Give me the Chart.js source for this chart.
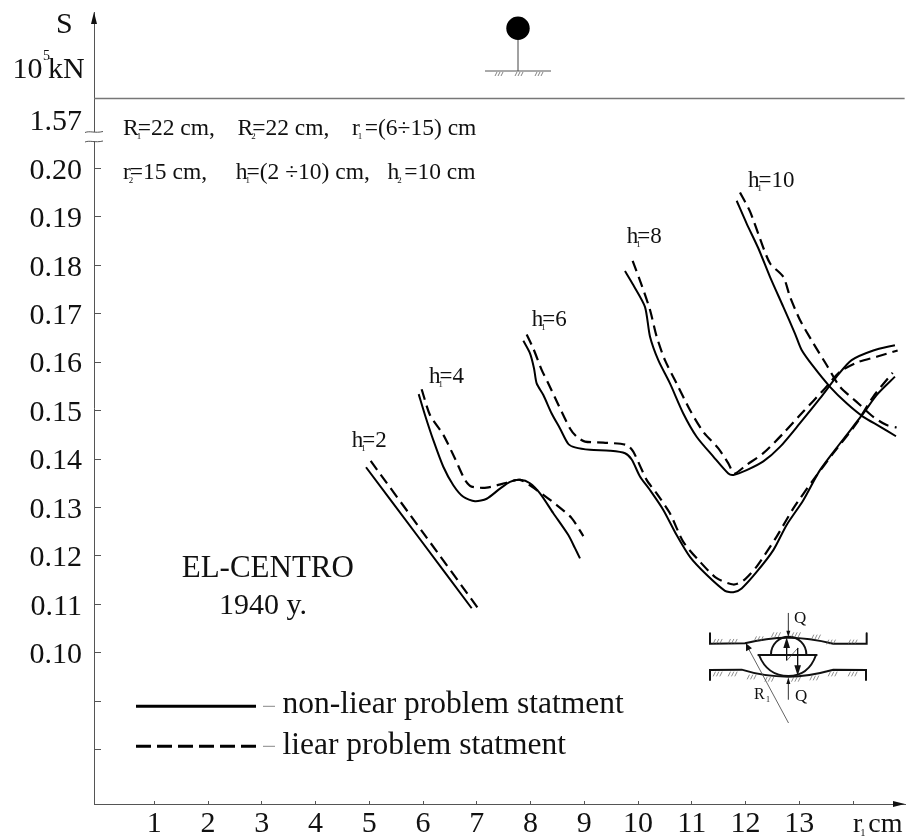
<!DOCTYPE html>
<html>
<head>
<meta charset="utf-8">
<title>S vs r1</title>
<script src="https://cdn.jsdelivr.net/npm/chart.js@4"></script>
<style>
  html, body { margin: 0; padding: 0; background: #fff; }
  canvas { display: block; }
</style>
</head>
<body>
<canvas id="chart" width="912" height="838"></canvas>
<script>
// axis ticks
const xTickValues = [1, 2, 3, 4, 5, 6, 7, 8, 9, 10, 11, 12, 13, 14];
const xTickLabels = ['1', '2', '3', '4', '5', '6', '7', '8', '9', '10', '11', '12', '13', ''];
const yTickValues = [0.08, 0.09, 0.10, 0.11, 0.12, 0.13, 0.14, 0.15, 0.16, 0.17, 0.18, 0.19, 0.20, 0.21];
const yTickLabels = ['', '', '0.10', '0.11', '0.12', '0.13', '0.14', '0.15', '0.16', '0.17', '0.18', '0.19', '0.20', '1.57'];

// h1=2
const h2SolidX = [4.939, 5.92, 6.905];
const h2SolidY = [0.1383, 0.1238, 0.1092];
const h2DashX = [5.026, 6.02, 7.017];
const h2DashY = [0.1396, 0.1245, 0.1093];

// h1=4
const h4SolidX = [5.919, 6.036, 6.191, 6.377, 6.563, 6.749, 6.967, 7.184, 7.432, 7.618, 7.804, 7.990, 8.176, 8.424, 8.703, 8.827, 8.920];
const h4SolidY = [0.1534, 0.1491, 0.1439, 0.1384, 0.1346, 0.1322, 0.1313, 0.1318, 0.1339, 0.1353, 0.1357, 0.1350, 0.1329, 0.1288, 0.1243, 0.1216, 0.1195];
const h4DashX = [5.974, 6.129, 6.377, 6.594, 6.780, 6.904, 7.184, 7.556, 7.804, 8.114, 8.486, 8.765, 8.982];
const h4DashY = [0.1544, 0.1491, 0.1450, 0.1401, 0.1357, 0.1343, 0.1341, 0.1351, 0.1357, 0.1336, 0.1305, 0.1278, 0.1241];

// h1=6
const h6SolidX = [7.866, 7.990, 8.065, 8.114, 8.238, 8.393, 8.548, 8.703, 8.827, 9.106, 9.478, 9.758, 9.882, 10.036, 10.222, 10.470, 10.718, 10.966, 11.276, 11.618, 11.773, 11.928, 12.207, 12.517, 12.765, 13.075, 13.385, 13.757, 14.191, 14.439, 14.780];
const h6SolidY = [0.1644, 0.1618, 0.1587, 0.1556, 0.1532, 0.1494, 0.1463, 0.1431, 0.1424, 0.1419, 0.1417, 0.1412, 0.1399, 0.1364, 0.1336, 0.1295, 0.1243, 0.1198, 0.1161, 0.1128, 0.1125, 0.1133, 0.1167, 0.1212, 0.1264, 0.1315, 0.1377, 0.1432, 0.1494, 0.1532, 0.1570];
const h6DashX = [7.928, 8.052, 8.207, 8.331, 8.517, 8.734, 8.858, 9.013, 9.354, 9.789, 9.913, 10.160, 10.346, 10.594, 10.842, 11.152, 11.463, 11.773, 11.959, 12.207, 12.579, 12.889, 13.261, 13.633, 14.067, 14.377, 14.737];
const h6DashY = [0.1657, 0.1628, 0.1584, 0.1556, 0.1512, 0.1463, 0.1446, 0.1436, 0.1434, 0.1429, 0.1415, 0.1357, 0.1329, 0.1288, 0.1229, 0.1188, 0.1154, 0.1141, 0.1149, 0.1178, 0.1240, 0.1298, 0.1357, 0.1412, 0.1474, 0.1529, 0.1578];

// h1=8
const h8SolidX = [9.757, 9.912, 10.129, 10.222, 10.377, 10.594, 10.842, 11.090, 11.401, 11.680, 11.773, 12.021, 12.331, 12.641, 13.013, 13.385, 13.695, 13.974, 14.377, 14.780];
const h8SolidY = [0.1788, 0.1759, 0.1714, 0.1653, 0.1604, 0.1556, 0.1494, 0.1446, 0.1405, 0.1370, 0.1367, 0.1377, 0.1395, 0.1425, 0.1474, 0.1525, 0.1570, 0.1604, 0.1624, 0.1635];
const h8DashX = [9.900, 10.067, 10.222, 10.346, 10.501, 10.718, 10.966, 11.214, 11.494, 11.680, 11.791, 12.021, 12.331, 12.703, 13.075, 13.447, 13.757, 14.067, 14.439, 14.830];
const h8DashY = [0.1809, 0.1759, 0.1708, 0.1653, 0.1604, 0.1556, 0.1501, 0.1456, 0.1422, 0.1391, 0.1370, 0.1388, 0.1412, 0.1453, 0.1498, 0.1542, 0.1580, 0.1599, 0.1611, 0.1624];

// h1=10
const h10SolidX = [11.835, 12.021, 12.238, 12.455, 12.703, 12.920, 13.044, 13.261, 13.571, 13.881, 14.191, 14.501, 14.799];
const h10SolidY = [0.1933, 0.1886, 0.1835, 0.1776, 0.1714, 0.1659, 0.1625, 0.1591, 0.1549, 0.1515, 0.1487, 0.1467, 0.1447];
const h10DashX = [11.897, 12.083, 12.269, 12.455, 12.703, 12.827, 13.013, 13.261, 13.509, 13.757, 14.067, 14.377, 14.625, 14.811];
const h10DashY = [0.1950, 0.1911, 0.1855, 0.1804, 0.1776, 0.1735, 0.1687, 0.1639, 0.1594, 0.1549, 0.1518, 0.1487, 0.1470, 0.1465];

// the line across the top of the plot
const dividerX = [-0.12, 14.96];
const dividerY = [0.2144, 0.2144];

const serif = '"Liberation Serif", "Times New Roman", serif';
const ink = '#111';
const axisGrey = '#555';

const pts = (xs, ys) => xs.map((x, i) => ({ x, y: ys[i] }));

const solid = (label, xs, ys) => ({ label, data: pts(xs, ys), borderColor: '#000', borderWidth: 2, showLine: true, pointRadius: 0, tension: 0.25, fill: false });
const dashed = (label, xs, ys) => ({ label, data: pts(xs, ys), borderColor: '#000', borderWidth: 2.2, borderDash: [11, 6], showLine: true, pointRadius: 0, tension: 0.25, fill: false });

function txt(ctx, s, x, y, size) {
  ctx.font = size + 'px ' + serif;
  ctx.fillStyle = ink;
  ctx.textAlign = 'left';
  ctx.textBaseline = 'alphabetic';
  ctx.fillText(s, x, y);
}

// letter with a tiny subscript under it, then the rest of the text right after
function subbed(ctx, base, sub, rest, x, y, size) {
  txt(ctx, base, x, y, size);
  const w = ctx.measureText(base).width;
  txt(ctx, sub, x + w - 2, y + 4, size * 0.38);
  txt(ctx, rest, x + w - 1, y, size);
}

function line(ctx, pairs, width, color) {
  ctx.beginPath();
  pairs.forEach((p, i) => i ? ctx.lineTo(p[0], p[1]) : ctx.moveTo(p[0], p[1]));
  ctx.lineWidth = width;
  ctx.strokeStyle = color;
  ctx.stroke();
}

function head(ctx, tipX, tipY, baseX1, baseY1, baseX2, baseY2) {
  ctx.beginPath();
  ctx.moveTo(tipX, tipY);
  ctx.lineTo(baseX1, baseY1);
  ctx.lineTo(baseX2, baseY2);
  ctx.closePath();
  ctx.fillStyle = '#111';
  ctx.fill();
}

function hatch(ctx, x, y, n, dir) {
  ctx.beginPath();
  for (let i = 0; i < n; i++) {
    ctx.moveTo(x + i * 3, y + (dir > 0 ? 4 : 0));
    ctx.lineTo(x + i * 3 + 2, y + (dir > 0 ? 0 : 4));
  }
  ctx.lineWidth = 0.8;
  ctx.strokeStyle = '#666';
  ctx.stroke();
}

function drawBall(ctx) {
  line(ctx, [[518, 40], [518, 71]], 1, '#444');
  line(ctx, [[485, 71], [551, 71]], 1, '#555');
  hatch(ctx, 495, 72, 3, 1);
  hatch(ctx, 515, 72, 3, 1);
  hatch(ctx, 535, 72, 3, 1);
  ctx.beginPath();
  ctx.arc(518, 28.3, 11.7, 0, Math.PI * 2);
  ctx.fillStyle = '#000';
  ctx.fill();
}

function drawSchematic(ctx) {
  ctx.save();
  ctx.translate(660, 590);
  ctx.scale(1 / 3, 1 / 3); // sketched from a 3x crop

  // plates
  ctx.lineCap = 'round';
  ctx.beginPath();
  ctx.moveTo(150, 130); ctx.lineTo(150, 161); ctx.lineTo(255, 160);
  ctx.bezierCurveTo(300, 148, 340, 143, 385, 143);
  ctx.bezierCurveTo(440, 143, 475, 150, 520, 161);
  ctx.lineTo(620, 161); ctx.lineTo(620, 130);
  ctx.moveTo(150, 270); ctx.lineTo(150, 240); ctx.lineTo(245, 239);
  ctx.bezierCurveTo(280, 250, 330, 260, 385, 260);
  ctx.bezierCurveTo(440, 260, 480, 250, 520, 239);
  ctx.lineTo(618, 240); ctx.lineTo(618, 270);
  ctx.lineWidth = 6;
  ctx.strokeStyle = '#111';
  ctx.stroke();

  // bearing
  ctx.beginPath();
  ctx.arc(386, 193, 53, Math.PI, 0);
  ctx.moveTo(295, 195); ctx.lineTo(470, 195);
  ctx.moveTo(297, 195);
  ctx.bezierCurveTo(315, 240, 345, 258, 385, 258);
  ctx.bezierCurveTo(425, 258, 452, 240, 468, 195);
  ctx.lineWidth = 6;
  ctx.stroke();

  // inner force arrows
  line(ctx, [[380, 210], [380, 170]], 4, '#111');
  head(ctx, 380, 142, 370, 174, 390, 174);
  line(ctx, [[413, 175], [413, 230]], 4, '#111');
  head(ctx, 413, 258, 403, 226, 423, 226);
  line(ctx, [[382, 210], [410, 178]], 2, '#333');

  // Q arrows and radius
  line(ctx, [[385, 70], [385, 130]], 3, '#333');
  head(ctx, 385, 142, 379, 122, 391, 122);
  line(ctx, [[385, 328], [385, 275]], 3, '#333');
  head(ctx, 385, 262, 379, 282, 391, 282);
  line(ctx, [[385, 398], [265, 175]], 2.5, '#444');
  head(ctx, 258, 160, 258, 184, 276, 175);

  // hatching
  [[160, 148], [205, 148], [283, 140], [335, 128], [395, 128], [455, 135], [500, 150], [565, 150]].forEach(h => {
    ctx.beginPath();
    for (let i = 0; i < 3; i++) { ctx.moveTo(h[0] + i * 10, h[1] + 12); ctx.lineTo(h[0] + i * 10 + 6, h[1]); }
    ctx.lineWidth = 2;
    ctx.strokeStyle = '#555';
    ctx.stroke();
  });
  [[160, 246], [205, 246], [262, 255], [315, 262], [395, 262], [450, 258], [505, 246], [565, 246]].forEach(h => {
    ctx.beginPath();
    for (let i = 0; i < 3; i++) { ctx.moveTo(h[0] + i * 10, h[1] + 12); ctx.lineTo(h[0] + i * 10 + 6, h[1]); }
    ctx.lineWidth = 2;
    ctx.strokeStyle = '#555';
    ctx.stroke();
  });
  ctx.restore();

  txt(ctx, 'Q', 794, 623, 17);
  txt(ctx, 'Q', 795, 701, 17);
  txt(ctx, 'R', 754, 699, 16);
  txt(ctx, '1', 766, 702, 8);
}

function drawLegend(ctx) {
  line(ctx, [[136, 706.3], [256, 706.3]], 3, '#000');
  line(ctx, [[263, 706.3], [275, 706.3]], 1, '#888');
  ctx.setLineDash([15, 6]);
  line(ctx, [[136, 746.3], [256, 746.3]], 3, '#000');
  ctx.setLineDash([]);
  line(ctx, [[263, 746.3], [275, 746.3]], 1, '#888');
  txt(ctx, 'non-liear problem statment', 282.5, 713.3, 31.5);
  txt(ctx, 'liear problem statment', 282.5, 754, 31.5);
}

const sketchPlugin = {
  id: 'sketch',
  afterDraw(chart) {
    const ctx = chart.ctx;
    const a = chart.chartArea;
    ctx.save();

    // axis arrows
    head(ctx, a.left, 12, a.left - 3, 24, a.left + 3, 24);
    head(ctx, 905, a.bottom, 893, a.bottom - 3, 893, a.bottom + 3);

    // axis break
    ctx.fillStyle = '#fff';
    ctx.fillRect(a.left - 3, 132, 6, 9);
    [131.5, 141].forEach(y => {
      ctx.beginPath();
      ctx.moveTo(85, y + 1);
      ctx.bezierCurveTo(90, y - 1, 95, y + 2, 103, y);
      ctx.lineWidth = 1;
      ctx.strokeStyle = axisGrey;
      ctx.stroke();
    });

    // axis titles
    txt(ctx, 'S', 56, 33, 30);
    txt(ctx, '10', 12.5, 78, 30);
    txt(ctx, '5', 43, 60, 14);
    txt(ctx, 'kN', 48, 78, 30);
    subbed(ctx, 'r', '1', ' cm', 853, 832, 28);

    // parameters
    subbed(ctx, 'R', '1', '=22 cm,', 123, 135, 23.5);
    subbed(ctx, 'R', '2', '=22 cm,', 237.5, 135, 23.5);
    subbed(ctx, 'r', '1', ' =(6÷15) cm', 352, 135, 23.5);
    subbed(ctx, 'r', '2', '=15 cm,', 123, 179, 23.5);
    subbed(ctx, 'h', '1', '=(2 ÷10) cm,', 235.7, 179, 23.5);
    subbed(ctx, 'h', '2', ' =10 cm', 387.5, 179, 23.5);

    // curve labels
    subbed(ctx, 'h', '1', '=2', 351.7, 446.7, 23);
    subbed(ctx, 'h', '1', '=4', 429, 382.7, 23);
    subbed(ctx, 'h', '1', '=6', 531.7, 326, 23);
    subbed(ctx, 'h', '1', '=8', 626.7, 242.7, 23);
    subbed(ctx, 'h', '1', '=10', 748, 187, 23);

    txt(ctx, 'EL-CENTRO', 181.7, 577, 31);
    txt(ctx, '1940 y.', 219, 614, 30);

    drawLegend(ctx);
    drawBall(ctx);
    drawSchematic(ctx);
    ctx.restore();
  }
};

new Chart(document.getElementById('chart'), {
  type: 'scatter',
  data: {
    datasets: [
      { label: 'divider', data: pts(dividerX, dividerY), borderColor: '#777', borderWidth: 1.5, showLine: true, pointRadius: 0 },
      solid('h1=2 non-linear', h2SolidX, h2SolidY),
      dashed('h1=2 linear', h2DashX, h2DashY),
      solid('h1=4 non-linear', h4SolidX, h4SolidY),
      dashed('h1=4 linear', h4DashX, h4DashY),
      solid('h1=6 non-linear', h6SolidX, h6SolidY),
      dashed('h1=6 linear', h6DashX, h6DashY),
      solid('h1=8 non-linear', h8SolidX, h8SolidY),
      dashed('h1=8 linear', h8DashX, h8DashY),
      solid('h1=10 non-linear', h10SolidX, h10SolidY),
      dashed('h1=10 linear', h10DashX, h10DashY)
    ]
  },
  options: {
    responsive: false,
    animation: false,
    layout: { padding: { top: 12, right: 7, left: 0, bottom: 0 } },
    plugins: { legend: { display: false }, tooltip: { enabled: false } },
    scales: {
      x: {
        type: 'linear',
        min: -0.1219,
        max: 14.967,
        afterFit: s => { s.height = 34; s.paddingLeft = 0; s.paddingRight = 0; },
        afterBuildTicks: s => { s.ticks = xTickValues.map(value => ({ value })); },
        border: { color: axisGrey, width: 1 },
        grid: { drawOnChartArea: false, tickLength: -3, tickColor: axisGrey },
        ticks: {
          autoSkip: false,
          maxRotation: 0,
          padding: 5,
          color: ink,
          font: { family: serif, size: 30 },
          callback: (v, i) => xTickLabels[i]
        }
      },
      y: {
        type: 'linear',
        min: 0.0688,
        max: 0.23226,
        afterFit: s => { s.width = 94; s.paddingTop = 0; s.paddingBottom = 0; },
        afterBuildTicks: s => { s.ticks = yTickValues.map(value => ({ value })); },
        border: { color: axisGrey, width: 1 },
        grid: {
          drawOnChartArea: false,
          tickLength: -7,
          // 1.57 sits at the axis break and has no tick of its own
          tickColor: c => (c.tick && c.tick.value > 0.205 ? 'transparent' : axisGrey)
        },
        ticks: {
          autoSkip: false,
          padding: 19,
          labelOffset: 2.5,
          color: ink,
          font: { family: serif, size: 30 },
          callback: (v, i) => yTickLabels[i]
        }
      }
    }
  },
  plugins: [sketchPlugin]
});
</script>
</body>
</html>
